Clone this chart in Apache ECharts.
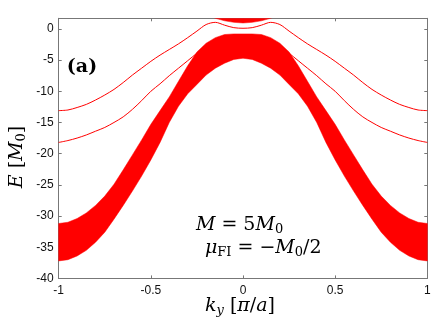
<!DOCTYPE html>
<html><head><meta charset="utf-8">
<script src="https://cdn.jsdelivr.net/npm/echarts@6/dist/echarts.min.js"></script>
<style>html,body{margin:0;padding:0;background:#fff}#c{width:442px;height:327px}</style>
</head><body><div id="c"></div>
<script>
const kValues = [-1,-0.95,-0.9,-0.85,-0.8,-0.75,-0.7,-0.65,-0.6,-0.55,-0.5,-0.45,-0.4,-0.35,-0.3,-0.25,-0.2,-0.15,-0.1,-0.05,0,0.05,0.1,0.15,0.2,0.25,0.3,0.35,0.4,0.45,0.5,0.55,0.6,0.65,0.7,0.75,0.8,0.85,0.9,0.95,1];
const bandUpper = [-31.2,-31.0,-30.4,-29.5,-28.3,-26.8,-24.9,-22.6,-20.2,-17.8,-15.3,-13.1,-10.9,-8.4,-5.9,-3.7,-2.3,-1.4,-0.9,-0.8,-0.8,-0.8,-0.9,-1.4,-2.3,-3.7,-5.9,-8.4,-10.9,-13.1,-15.3,-17.8,-20.2,-22.6,-24.9,-26.8,-28.3,-29.5,-30.4,-31.0,-31.2];
const bandLower = [-37.2,-37.0,-36.4,-35.5,-34.2,-32.6,-30.5,-28.3,-26.0,-23.6,-21.0,-18.2,-15.0,-12.4,-10.4,-8.9,-7.4,-6.3,-5.5,-4.9,-4.7,-4.9,-5.5,-6.3,-7.4,-8.9,-10.4,-12.4,-15.0,-18.2,-21.0,-23.6,-26.0,-28.3,-30.5,-32.6,-34.2,-35.5,-36.4,-37.0,-37.2];
const upperLine = [-13.1,-13.0,-12.6,-12.1,-11.4,-10.6,-9.7,-8.6,-7.4,-6.3,-5.2,-4.2,-3.3,-2.4,-1.4,-0.35,0.7,1.05,0.6,0.2,0.1,0.2,0.6,1.05,0.7,-0.35,-1.4,-2.4,-3.3,-4.2,-5.2,-6.3,-7.4,-8.6,-9.7,-10.6,-11.4,-12.1,-12.6,-13.0,-13.1];
const lowerLine = [-18.2,-17.9,-17.5,-17.0,-16.4,-15.8,-15.0,-14.1,-12.9,-11.5,-10.0,-8.8,-7.5,-6.3,-5.1,-3.9,-2.8,-1.9,-1.3,-1.0,-0.9,-1.0,-1.3,-1.9,-2.8,-3.9,-5.1,-6.3,-7.5,-8.8,-10.0,-11.5,-12.9,-14.1,-15.0,-15.8,-16.4,-17.0,-17.5,-17.9,-18.2];
const blobK = [-0.2,-0.15,-0.1,-0.05,0,0.05,0.1,0.15,0.2];
const blobLower = [2.3,1.7,1.3,1.05,0.95,1.05,1.3,1.7,2.3];
const blobUpper = [3,3,3,3,3,3,3,3,3];
const xTicks = [-1,-0.5,0,0.5,1];
const yTicks = [-40,-35,-30,-25,-20,-15,-10,-5,0];

const RED = '#ff0000';
function bandRender(ks, lo, hi) {
  return function (params, api) {
    const pts = [];
    for (let i = 0; i < ks.length; i++) pts.push(api.coord([ks[i], hi[i]]));
    for (let i = ks.length - 1; i >= 0; i--) pts.push(api.coord([ks[i], lo[i]]));
    return {type: 'polygon', shape: {points: pts}, style: {fill: RED, stroke: RED, lineWidth: 0.5}};
  };
}
const axisCol = '#777777';
const serif = 'DejaVu Serif';
const rich = {
  i: {fontFamily: serif, fontStyle: 'italic', fontSize: 19, lineHeight: 20, verticalAlign: 'top', fill: '#000'},
  n: {fontFamily: serif, fontSize: 19, lineHeight: 20, verticalAlign: 'top', fill: '#000'},
  eq: {fontFamily: serif, fontSize: 19, lineHeight: 20, verticalAlign: 'top', fill: '#000', padding: [0, 6, 0, 6]},
  sp: {fontFamily: serif, fontSize: 19, lineHeight: 20, verticalAlign: 'top', fill: '#000', padding: [0, 3, 0, 3]},
  s: {fontFamily: serif, fontSize: 13, lineHeight: 13, verticalAlign: 'bottom', fill: '#000'},
  si: {fontFamily: serif, fontStyle: 'italic', fontSize: 13, lineHeight: 13, verticalAlign: 'bottom', fill: '#000'}
};
const chart = echarts.init(document.getElementById('c'), null, {renderer: 'canvas'});
const mkX = (pos, show) => ({
  type: 'value', min: -1, max: 1, interval: 0.5, position: pos,
  axisLine: {show: true, onZero: false, lineStyle: {color: axisCol, width: 1}},
  axisTick: {show: true, inside: true, length: 3, lineStyle: {color: axisCol}},
  splitLine: {show: false},
  axisLabel: {show: show, color: '#111', fontFamily: 'Liberation Sans', fontSize: 12, margin: 6,
    formatter: v => xTicks.includes(v) ? String(v) : ''}
});
const mkY = (pos, show) => ({
  type: 'value', min: -40, max: 1.7, interval: 5, position: pos,
  axisLine: {show: true, onZero: false, lineStyle: {color: axisCol, width: 1}},
  axisTick: {show: true, inside: true, length: 3, lineStyle: {color: axisCol}},
  splitLine: {show: false},
  axisLabel: {show: show, color: '#111', fontFamily: 'Liberation Sans', fontSize: 12, margin: 5,
    formatter: v => yTicks.includes(v) ? String(v) : ''}
});
chart.setOption({
  animation: false,
  backgroundColor: '#fff',
  grid: {left: 58.7, right: 14.7, top: 18.3, bottom: 48.6},
  xAxis: [mkX('bottom', true), mkX('top', false)],
  yAxis: [mkY('left', true), mkY('right', false)],
  series: [
    {type: 'custom', clip: true, renderItem: bandRender(kValues, bandLower, bandUpper), data: [[0, 0]], z: 3},
    {type: 'custom', clip: true, renderItem: bandRender(blobK, blobLower, blobUpper), data: [[0, 1]], z: 3},
    {type: 'line', data: kValues.map((k, i) => [k, upperLine[i]]), smooth: 0.3, symbol: 'none', lineStyle: {color: RED, width: 1}, z: 2},
    {type: 'line', data: kValues.map((k, i) => [k, lowerLine[i]]), smooth: 0.3, symbol: 'none', lineStyle: {color: RED, width: 1}, z: 2}
  ],
  graphic: [
    {type: 'text', x: 18, y: 157, rotation: Math.PI / 2, style: {text: '{i|E}{sp|}{n|[}{i|M}{s|0}{n|]}', rich: rich, align: 'center', verticalAlign: 'middle'}},
    {type: 'text', x: 240, y: 307, style: {text: '{i|k}{si|y}{sp|}{n|[}{i|π}{n|/}{i|a}{n|]}', rich: rich, align: 'center', verticalAlign: 'middle'}},
    {type: 'text', x: 82, y: 67, style: {text: '(a)', fontFamily: serif, fontWeight: 'bold', fontSize: 19, fill: '#000', align: 'center', verticalAlign: 'middle'}},
    {type: 'text', x: 196, y: 226, style: {text: '{i|M}{eq|=}{n|5}{i|M}{s|0}', rich: rich, align: 'left', verticalAlign: 'middle'}},
    {type: 'text', x: 205, y: 249, style: {text: '{i|μ}{s|FI}{eq|=}{n|−}{i|M}{s|0}{n|/2}', rich: rich, align: 'left', verticalAlign: 'middle'}}
  ]
});
</script>
</body></html>
